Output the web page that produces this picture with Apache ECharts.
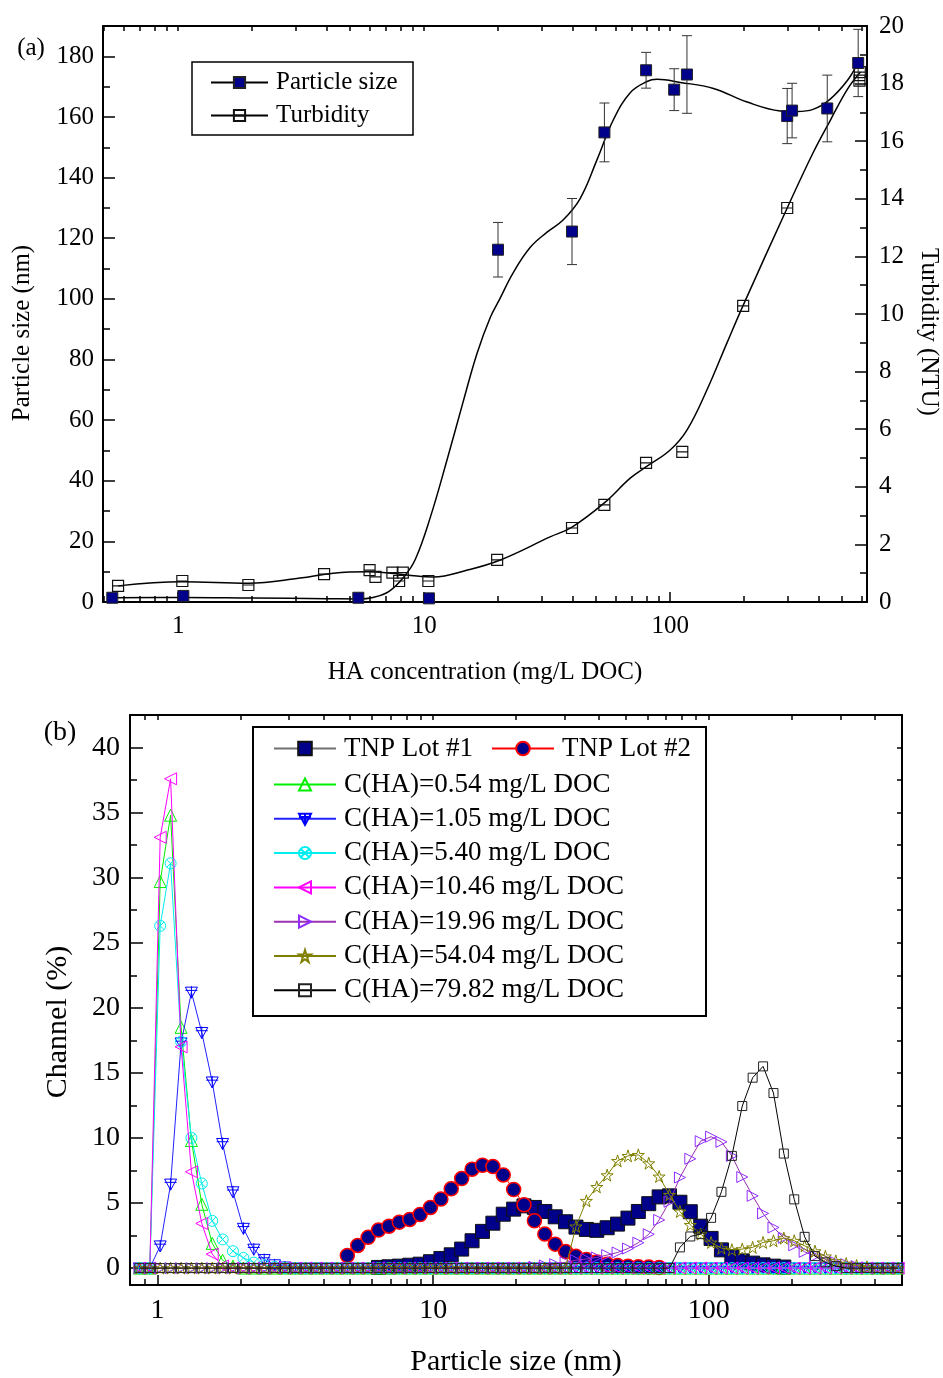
<!DOCTYPE html>
<html><head><meta charset="utf-8">
<script src="https://cdn.jsdelivr.net/npm/echarts@6.0.0/dist/echarts.min.js"></script>
<style>html,body{margin:0;padding:0;background:#fff}#c{width:943px;height:1378px}</style>
</head><body><div id="c"></div>
<script>
// ---------- Panel (a) data ----------
const psConc = [0.54, 1.05, 5.40, 10.46, 19.96, 39.9, 54.04, 79.82, 103.8, 117, 299, 313, 435, 581];
const psSize = [1.4, 2.0, 1.4, 1.2, 116.2, 122.2, 154.9, 175.4, 169.0, 174.0, 160.3, 162.1, 162.8, 177.8];
const psErr  = [0, 0, 0, 0, 9.0, 10.9, 9.7, 5.9, 6.9, 12.8, 9.1, 9.0, 11.0, 11.1];
const turbConc = [0.57, 1.04, 1.93, 3.92, 6.0, 6.34, 7.43, 7.91, 8.19, 10.4, 19.8, 39.9, 54.0, 79.8, 112, 198, 299, 588, 590];
const turbVal  = [0.56, 0.73, 0.59, 0.97, 1.11, 0.87, 1.02, 0.73, 1.02, 0.73, 1.46, 2.57, 3.37, 4.83, 5.21, 10.28, 13.68, 18.1, 18.4];
const psCurveConc = [0.54, 1.05, 2.0, 4.0, 5.4, 6.2, 7.2, 8.3, 9.2, 10.6, 12.4, 14.4, 16.4, 18.6, 20.3, 23, 27, 31.6, 36.7, 43, 50.5, 58.7, 68.8, 80.5, 88.5, 110, 150, 204, 280, 328, 381, 446, 525, 581];
const psCurveVal  = [1.4, 1.5, 1.3, 1.1, 1.0, 1.5, 3.5, 8.4, 14, 28, 47, 66, 82, 94, 100, 108.6, 117, 122, 126, 133, 146, 159, 168, 171.7, 172.4, 171.4, 169.4, 165, 162, 161.8, 162.5, 165.8, 172, 178];
const turbCurveConc = [0.57, 1.04, 1.93, 3.13, 4.27, 5.86, 7.3, 9.35, 10.9, 15, 20.4, 32.5, 39.9, 54, 68.8, 80, 100, 117, 141, 170, 198, 299, 381, 446, 525, 594];
const turbCurveVal  = [0.56, 0.7, 0.65, 0.83, 1.0, 1.05, 1.0, 0.9, 0.87, 1.11, 1.46, 2.26, 2.6, 3.44, 4.3, 4.7, 5.28, 5.97, 7.36, 8.99, 10.3, 13.68, 15.6, 16.7, 17.8, 18.4];
const aMajorX = [1, 10, 100];
const aMinorX = [0.5, 0.6, 0.7, 0.8, 0.9, 2, 3, 4, 5, 6, 7, 8, 9, 20, 30, 40, 50, 60, 70, 80, 90, 200, 300, 400, 500, 600];
const aLeftMajor = [0, 20, 40, 60, 80, 100, 120, 140, 160, 180];
const aLeftMinor = [10, 30, 50, 70, 90, 110, 130, 150, 170, 190];
const aRightMajor = [0, 2, 4, 6, 8, 10, 12, 14, 16, 18, 20];
const aRightMinor = [1, 3, 5, 7, 9, 11, 13, 15, 17, 19];

// ---------- Panel (b) data ----------
const sizes = [0.860,0.938,1.023,1.116,1.218,1.328,1.448,1.580,1.723,1.879,
  2.050,2.236,2.439,2.660,2.902,3.165,3.452,3.765,4.106,4.477,
  4.884,5.327,5.810,6.337,6.912,7.539,8.223,8.968,9.779,10.67,
  11.63,12.69,13.84,15.10,16.47,17.96,19.59,21.36,23.30,25.41,
  27.72,30.23,32.97,35.96,39.22,42.78,46.66,50.89,55.51,60.53,
  66.03,72.01,78.55,85.67,93.43,101.9,111.1,121.2,132.2,144.2,
  157.3,171.6,187.1,204.1,222.6,242.8,264.8,288.8,315.0,343.6,
  374.7,408.7,445.8,486.2];
const lot1 = [null,null,null,null,null,null,null,null,null,null,
  null,null,null,null,null,null,null,null,null,null,
  null,null,null,0.05,0.1,0.15,0.22,0.3,0.49,0.74,
  1.02,1.46,2.1,2.82,3.45,4.14,4.53,4.78,4.66,4.35,
  3.94,3.56,3.15,2.97,2.9,3.1,3.38,3.84,4.35,4.95,
  5.47,5.55,5.06,4.33,3.22,2.28,1.4,0.86,0.55,0.38,
  0.25,0.15,0.08,null,null,null,null,null,null,null,
  null,null,null,null];
const lot2 = [null,null,null,null,null,null,null,null,null,null,
  null,null,null,null,null,null,null,null,null,null,
  0.97,1.74,2.36,2.92,3.22,3.53,3.74,4.12,4.66,5.3,
  6.09,6.88,7.6,7.9,7.8,7.16,6.04,4.86,3.63,2.61,
  1.84,1.27,0.9,0.66,0.46,0.3,0.2,0.15,0.1,0.08,
  0.05,null,null,null,null,null,null,null,null,null,
  null,null,null,null,null,null,null,null,null,null,
  null,null,null,null];
const ha054 = [0,0,29.7,34.8,18.5,9.8,4.9,1.9,0.6,0.15,
  0,0,0,0,0,0,0,0,0,0, 0,0,0,0,0,0,0,0,0,0, 0,0,0,0,0,0,0,0,0,0,
  0,0,0,0,0,0,0,0,0,0, 0,0,0,0,0,0,0,0,0,0, 0,0,0,0,0,0,0,0,0,0, 0,0,0,0];
const ha105 = [0,0,1.7,6.45,17.3,21.2,18.1,14.3,9.57,5.86,
  3.05,1.45,0.65,0.25,0.08,0,0,0,0,0, 0,0,0,0,0,0,0,0,0,0, 0,0,0,0,0,0,0,0,0,0,
  0,0,0,0,0,0,0,0,0,0, 0,0,0,0,0,0,0,0,0,0, 0,0,0,0,0,0,0,0,0,0, 0,0,0,0];
const ha540 = [0,0,26.3,31.1,17.4,10.0,6.5,3.63,2.2,1.3,
  0.78,0.42,0.22,0.1,0,0,0,0,0,0, 0,0,0,0,0,0,0,0,0,0, 0,0,0,0,0,0,0,0,0,0,
  0,0,0,0,0,0,0,0,0,0, 0,0,0,0,0,0,0,0,0,0, 0,0,0,0,0,0,0,0,0,0, 0,0,0,0];
const ha1046 = [0,0,33.1,37.6,17.0,7.4,3.43,1.07,0.15,0,
  0,0,0,0,0,0,0,0,0,0, 0,0,0,0,0,0,0,0,0,0, 0,0,0,0,0,0,0,0,0,0,
  0,0,0,0,0,0,0,0,0,0, 0,0,0,0,0,0,0,0,0,0, 0,0,0,0,0,0,0,0,0,0, 0,0,0,0];
const ha1996 = [0,0,0,0,0,0,0,0,0,0, 0,0,0,0,0,0,0,0,0,0, 0,0,0,0,0,0,0,0,0,0,
  0,0,0,0,0,0,0,0,0.1,0.2,
  0.3,0.45,0.6,0.7,0.82,1.0,1.2,1.5,1.95,2.6,
  3.7,5.1,6.96,8.4,9.75,10.1,9.7,8.62,7.0,5.55,
  4.2,3.12,2.33,1.75,1.25,0.92,0.7,0.45,0.3,0.15,
  0.05,0,0,0];
const ha5404 = [0,0,0,0,0,0,0,0,0,0, 0,0,0,0,0,0,0,0,0,0, 0,0,0,0,0,0,0,0,0,0, 0,0,0,0,0,0,0,0,0,0,
  0,0,3.2,5.17,6.24,7.14,8.24,8.62,8.7,8.06,
  7.04,5.63,4.35,3.32,2.61,1.97,1.53,1.41,1.46,1.59,
  1.97,2.1,2.3,2.1,1.71,1.3,0.9,0.55,0.35,0.2,
  0.1,0,0,0];
const ha7982 = [0,0,0,0,0,0,0,0,0,0, 0,0,0,0,0,0,0,0,0,0, 0,0,0,0,0,0,0,0,0,0, 0,0,0,0,0,0,0,0,0,0,
  0,0,0,0,0,0,0,0,0,0,
  0,0,1.59,2.43,2.61,3.86,5.86,8.62,12.45,14.63,
  15.5,13.45,8.8,5.28,2.4,0.92,0.44,0.15,0,0,
  0,0,0,0];
const bMajorX = [1, 10, 100];
const bMinorX = [0.9, 2, 3, 4, 5, 6, 7, 8, 9, 20, 30, 40, 50, 60, 70, 80, 90, 200, 300, 400, 500];
const bYMajor = [0, 5, 10, 15, 20, 25, 30, 35, 40];
const bYMinor = [2.5, 7.5, 12.5, 17.5, 22.5, 27.5, 32.5, 37.5, 42.5];

// ---------- chart ----------
const FONT = 'Liberation Serif';
const L = v => Math.log10(v);
const lg = arr => arr.map(L);
const tickStyle = {color: '#000', width: 1.5};
const noLine = {show: false, onZero: false};
const frameLine = {show: true, onZero: false, lineStyle: {color: '#000', width: 2}};
const noLabel = {show: false};
const noSplit = {show: false};

function xy(xs, ys) { return xs.map((x, i) => [L(x), ys[i]]); }
function seriesData(vals) {
  const out = [];
  vals.forEach((v, i) => { if (v !== null) out.push([L(sizes[i]), v]); });
  return out;
}

const chart = echarts.init(document.getElementById('c'), null, {renderer: 'canvas'});

const aXmin = L(0.495), aXmax = L(631);
const bXmin = L(0.795), bXmax = L(502);

const xAxis = [
  {gridIndex: 0, type: 'value', position: 'bottom', min: aXmin, max: aXmax, axisLine: frameLine,
   axisTick: {show: true, inside: true, length: 10, customValues: lg(aMajorX), lineStyle: tickStyle},
   axisLabel: {show: true, customValues: lg(aMajorX), formatter: v => String(Math.round(Math.pow(10, v))),
     fontFamily: FONT, fontSize: 25, color: '#000', margin: 12},
   splitLine: noSplit,
   name: 'HA concentration (mg/L DOC)', nameLocation: 'middle', nameGap: 58,
   nameTextStyle: {fontFamily: FONT, fontSize: 25, color: '#000'}},
  {gridIndex: 0, type: 'value', position: 'bottom', min: aXmin, max: aXmax,
   axisLine: noLine, axisLabel: noLabel, splitLine: noSplit,
   axisTick: {show: true, inside: true, length: 6, customValues: lg(aMinorX), lineStyle: tickStyle}},
  {gridIndex: 0, type: 'value', position: 'top', min: aXmin, max: aXmax,
   axisLine: frameLine, axisLabel: noLabel, splitLine: noSplit,
   axisTick: {show: true, inside: true, length: 5, customValues: lg(aMajorX.concat(aMinorX)), lineStyle: tickStyle}},
  {gridIndex: 1, type: 'value', position: 'bottom', min: bXmin, max: bXmax, axisLine: frameLine,
   axisTick: {show: true, inside: true, length: 10, customValues: lg(bMajorX), lineStyle: tickStyle},
   axisLabel: {show: true, customValues: lg(bMajorX), formatter: v => String(Math.round(Math.pow(10, v))),
     fontFamily: FONT, fontSize: 28, color: '#000', margin: 12},
   splitLine: noSplit,
   name: 'Particle size (nm)', nameLocation: 'middle', nameGap: 62,
   nameTextStyle: {fontFamily: FONT, fontSize: 30, color: '#000'}},
  {gridIndex: 1, type: 'value', position: 'bottom', min: bXmin, max: bXmax,
   axisLine: noLine, axisLabel: noLabel, splitLine: noSplit,
   axisTick: {show: true, inside: true, length: 6, customValues: lg(bMinorX), lineStyle: tickStyle}},
  {gridIndex: 1, type: 'value', position: 'top', min: bXmin, max: bXmax,
   axisLine: frameLine, axisLabel: noLabel, splitLine: noSplit,
   axisTick: {show: true, inside: true, length: 5, customValues: lg(bMajorX.concat(bMinorX)), lineStyle: tickStyle}}
];

const yAxis = [
  {gridIndex: 0, type: 'value', position: 'left', min: 0, max: 190, axisLine: frameLine,
   axisTick: {show: true, inside: true, length: 12, customValues: aLeftMajor, lineStyle: tickStyle},
   axisLabel: {show: true, customValues: aLeftMajor, fontFamily: FONT, fontSize: 25, color: '#000', margin: 9},
   splitLine: noSplit},
  {gridIndex: 0, type: 'value', position: 'left', min: 0, max: 190,
   axisLine: noLine, axisLabel: noLabel, splitLine: noSplit,
   axisTick: {show: true, inside: true, length: 7, customValues: aLeftMinor, lineStyle: tickStyle}},
  {gridIndex: 0, type: 'value', position: 'right', min: 0, max: 20, axisLine: frameLine,
   axisTick: {show: true, inside: true, length: 12, customValues: aRightMajor, lineStyle: tickStyle},
   axisLabel: {show: true, customValues: aRightMajor, fontFamily: FONT, fontSize: 25, color: '#000', margin: 12},
   splitLine: noSplit},
  {gridIndex: 0, type: 'value', position: 'right', min: 0, max: 20,
   axisLine: noLine, axisLabel: noLabel, splitLine: noSplit,
   axisTick: {show: true, inside: true, length: 7, customValues: aRightMinor, lineStyle: tickStyle}},
  {gridIndex: 1, type: 'value', position: 'left', min: -1.3, max: 42.5, axisLine: frameLine,
   axisTick: {show: true, inside: true, length: 13, customValues: bYMajor, lineStyle: tickStyle},
   axisLabel: {show: true, customValues: bYMajor, fontFamily: FONT, fontSize: 28, color: '#000', margin: 10},
   splitLine: noSplit},
  {gridIndex: 1, type: 'value', position: 'left', min: -1.3, max: 42.5,
   axisLine: noLine, axisLabel: noLabel, splitLine: noSplit,
   axisTick: {show: true, inside: true, length: 7, customValues: bYMinor, lineStyle: tickStyle}},
  {gridIndex: 1, type: 'value', position: 'right', min: -1.3, max: 42.5,
   axisLine: frameLine, axisLabel: noLabel, splitLine: noSplit,
   axisTick: {show: true, inside: true, length: 5, customValues: bYMajor.concat(bYMinor), lineStyle: tickStyle}}
];

const SQ_LINE = 'path://M0,0L100,0L100,100L0,100Z M0,50L100,50';
const STAR = 'path://M50,0L61,35L98,35L68,57L79,91L50,70L21,91L32,57L2,35L39,35Z';
const DOWN_CROSS = 'path://M0,8L100,8L50,100Z M50,0L50,100 M0,35L100,35';
const CIRC_X = 'path://M50,0A50,50 0 1 1 49.9,0Z M15,15L85,85 M85,15L15,85';
const LEFT_TRI = 'path://M0,50L100,0L100,100Z';
const RIGHT_TRI = 'path://M100,50L0,0L0,100Z';

const series = [
  {name: 'Particle size', type: 'line', xAxisIndex: 0, yAxisIndex: 0, data: xy(psCurveConc, psCurveVal),
   smooth: 0.4, symbol: 'rect', showSymbol: false, symbolSize: 11,
   itemStyle: {color: '#00008b', borderColor: '#222', borderWidth: 1, opacity: 1},
   lineStyle: {color: '#000', width: 1.5}, z: 2},
  {name: 'Turbidity', type: 'line', xAxisIndex: 0, yAxisIndex: 2, data: xy(turbCurveConc, turbCurveVal),
   smooth: 0.4, symbol: SQ_LINE, showSymbol: false, symbolSize: 11,
   itemStyle: {color: 'rgba(0,0,0,0)', borderColor: '#111', borderWidth: 1, opacity: 1},
   lineStyle: {color: '#000', width: 1.5}, z: 2},
  {name: 'psErr', type: 'custom', xAxisIndex: 0, yAxisIndex: 0,
   data: psConc.map((c, i) => [L(c), psSize[i], psErr[i]]).filter(d => d[2] > 0),
   encode: {x: 0, y: 1},
   renderItem: (params, api) => {
     const x = api.value(0), y = api.value(1), e = api.value(2);
     const t = api.coord([x, y + e]), b = api.coord([x, y - e]);
     const hw = 5, st = {stroke: '#333', lineWidth: 1};
     return {type: 'group', children: [
       {type: 'line', shape: {x1: t[0], y1: t[1], x2: b[0], y2: b[1]}, style: st},
       {type: 'line', shape: {x1: t[0] - hw, y1: t[1], x2: t[0] + hw, y2: t[1]}, style: st},
       {type: 'line', shape: {x1: b[0] - hw, y1: b[1], x2: b[0] + hw, y2: b[1]}, style: st}
     ]};
   }, z: 3},
  {name: 'turbPts', type: 'scatter', xAxisIndex: 0, yAxisIndex: 2, data: xy(turbConc, turbVal),
   symbol: SQ_LINE, symbolSize: 11,
   itemStyle: {color: 'rgba(0,0,0,0)', borderColor: '#111', borderWidth: 1.2, opacity: 1}, z: 4},
  {name: 'psPts', type: 'scatter', xAxisIndex: 0, yAxisIndex: 0, data: xy(psConc, psSize),
   symbol: 'rect', symbolSize: 11,
   itemStyle: {color: '#00008b', borderColor: '#222', borderWidth: 1, opacity: 1}, z: 5}
];

const bDefs = [
  {name: 'TNP Lot #1', vals: lot1, symbol: 'rect', size: 14, fill: '#00008b', stroke: '#111', line: '#707070', lw: 1.5, bw: 1},
  {name: 'TNP Lot #2', vals: lot2, symbol: 'circle', size: 14, fill: '#00008b', stroke: '#ff0000', line: '#ff0000', lw: 1, bw: 1.5},
  {name: 'C(HA)=0.54 mg/L DOC', vals: ha054, symbol: 'triangle', size: 12, fill: 'rgba(0,0,0,0)', stroke: '#00ee00', line: '#00ee00', lw: 1, bw: 1},
  {name: 'C(HA)=1.05 mg/L DOC', vals: ha105, symbol: DOWN_CROSS, size: 12, fill: 'rgba(0,0,0,0)', stroke: '#0000ff', line: '#2222ff', lw: 1, bw: 1},
  {name: 'C(HA)=5.40 mg/L DOC', vals: ha540, symbol: CIRC_X, size: 11, fill: 'rgba(0,0,0,0)', stroke: '#00eeee', line: '#00eeee', lw: 1, bw: 1},
  {name: 'C(HA)=10.46 mg/L DOC', vals: ha1046, symbol: LEFT_TRI, size: 12, fill: 'rgba(0,0,0,0)', stroke: '#ff00ff', line: '#ff00ff', lw: 1, bw: 1},
  {name: 'C(HA)=19.96 mg/L DOC', vals: ha1996, symbol: RIGHT_TRI, size: 11, fill: 'rgba(0,0,0,0)', stroke: '#8f2cff', line: '#9b30b0', lw: 1, bw: 1},
  {name: 'C(HA)=54.04 mg/L DOC', vals: ha5404, symbol: STAR, size: 12, fill: 'rgba(0,0,0,0)', stroke: '#808000', line: '#808000', lw: 1, bw: 1},
  {name: 'C(HA)=79.82 mg/L DOC', vals: ha7982, symbol: 'rect', size: 9, fill: 'rgba(0,0,0,0)', stroke: '#222', line: '#000', lw: 1, bw: 1}
];
bDefs.forEach((d, k) => {
  series.push({name: d.name, type: 'line', xAxisIndex: 3, yAxisIndex: 4, data: seriesData(d.vals),
    symbol: d.symbol, symbolSize: d.size, showSymbol: true,
    itemStyle: {color: d.fill, borderColor: d.stroke, borderWidth: d.bw, opacity: 1},
    lineStyle: {color: d.line, width: d.lw}, z: 10 + k, clip: true});
});

const legText = sz => ({fontFamily: FONT, fontSize: sz, color: '#000', lineHeight: sz, padding: [0, 0, 0, 3]});

const option = {
  animation: false,
  backgroundColor: '#fff',
  grid: [
    {left: 103, top: 26, width: 764, height: 576},
    {left: 130, top: 715, width: 772, height: 570}
  ],
  xAxis, yAxis, series,
  legend: [
    {data: ['Particle size', 'Turbidity'], left: 210, top: 70, orient: 'vertical', padding: 0,
     itemWidth: 57, itemHeight: 14, itemGap: 8, selectedMode: false, textStyle: legText(25)},
    {data: ['TNP Lot #1', 'TNP Lot #2'], left: 273, top: 735, orient: 'horizontal', padding: 0,
     itemWidth: 62, itemHeight: 17, itemGap: 18, selectedMode: false, textStyle: legText(27)},
    {data: bDefs.slice(2).map(d => d.name), left: 273, top: 771, orient: 'vertical', padding: 0,
     itemWidth: 62, itemHeight: 15, itemGap: 7.3, selectedMode: false, textStyle: legText(27)}
  ],
  graphic: [
    {type: 'rect', shape: {x: 192, y: 62, width: 221, height: 73}, style: {fill: 'none', stroke: '#000', lineWidth: 1.5}, z: 100},
    {type: 'rect', shape: {x: 253, y: 727, width: 453, height: 289}, style: {fill: 'none', stroke: '#000', lineWidth: 2}, z: 100},
    {type: 'text', x: 31, y: 48, style: {text: '(a)', font: '25px "Liberation Serif"', fill: '#000', align: 'center', verticalAlign: 'middle', textAlign: 'center', textVerticalAlign: 'middle'}},
    {type: 'text', x: 60, y: 733, style: {text: '(b)', font: '28px "Liberation Serif"', fill: '#000', align: 'center', verticalAlign: 'middle', textAlign: 'center', textVerticalAlign: 'middle'}},
    {type: 'text', x: 22, y: 333, rotation: Math.PI / 2, style: {text: 'Particle size (nm)', font: '25px "Liberation Serif"', fill: '#000', align: 'center', verticalAlign: 'middle', textAlign: 'center', textVerticalAlign: 'middle'}},
    {type: 'text', x: 929, y: 332, rotation: -Math.PI / 2, style: {text: 'Turbidity (NTU)', font: '25px "Liberation Serif"', fill: '#000', align: 'center', verticalAlign: 'middle', textAlign: 'center', textVerticalAlign: 'middle'}},
    {type: 'text', x: 58, y: 1022, rotation: Math.PI / 2, style: {text: 'Channel (%)', font: '30px "Liberation Serif"', fill: '#000', align: 'center', verticalAlign: 'middle', textAlign: 'center', textVerticalAlign: 'middle'}}
  ]
};
chart.setOption(option);
</script></body></html>
